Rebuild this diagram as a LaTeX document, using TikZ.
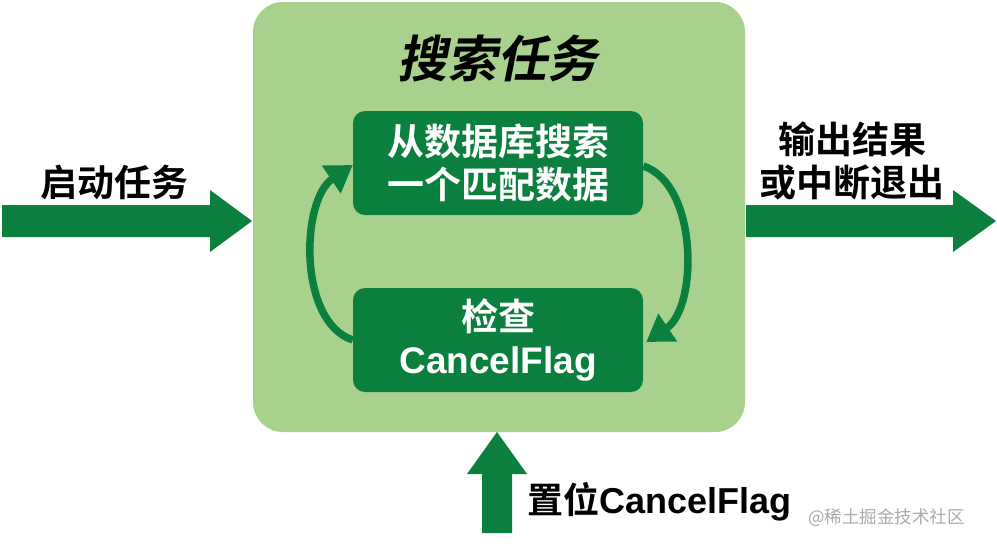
\documentclass[tikz,border=0pt]{standalone}
\usepackage{fontspec}
\usetikzlibrary{arrows.meta}
\newfontfamily\cjkb{Noto Sans CJK SC Bold}
\newfontfamily\cjkr{Noto Sans CJK SC}
\newfontfamily\cjkbi{Noto Sans CJK SC Bold}[FakeSlant=0.2]
\newfontfamily\latb{Liberation Sans Bold}
\definecolor{lightg}{HTML}{A9D18E}
\definecolor{darkg}{HTML}{0A7F3E}
\begin{document}
\begin{tikzpicture}[x=1pt,y=-1pt,
  innerbox/.style={fill=darkg, rounded corners=12pt, minimum width=290pt, minimum height=104pt,
    text=white, align=center, font=\cjkb\fontsize{37}{43}\selectfont, inner sep=0pt},
  lbl/.style={text=black, align=center, font=\cjkb\fontsize{37}{43}\selectfont, inner sep=0pt},
  loop/.style={draw=darkg, line width=7.5pt, -{Triangle[length=26pt,width=32pt]}},
  blockarrow/.style={fill=darkg}]
\useasboundingbox (0,0) rectangle (997,550);
\fill[white] (0,0) rectangle (997,550);
\node[fill=lightg, rounded corners=30pt, minimum width=492pt, minimum height=430pt, inner sep=0pt] (task) at (499,217) {};
\node[lbl, font=\cjkbi\fontsize{50}{54}\selectfont] (title) at (497,58) {搜索任务};
\node[innerbox] (top) at (498,163) {从数据库搜索\\一个匹配数据};
\node[innerbox] (bot) at (498,340) {检查\\{\latb CancelFlag}};
\draw[loop] ([yshift=-3pt]top.east) .. controls +(55,18) and +(52,-35) .. ([xshift=3pt,yshift=-2pt]bot.east);
\draw[loop] (bot.west) .. controls +(-55,-18) and +(-52,35) .. ([yshift=-2pt]top.west);
% left arrow
\fill[blockarrow] (2,205) -- (210,205) -- (210,190) -- (252,221) -- (210,252) -- (210,237) -- (2,237) -- cycle;
\node[lbl] (start) at (115,182) {启动任务};
% right arrow
\fill[blockarrow] (746,205) -- (953,205) -- (953,190) -- (996,221) -- (953,252) -- (953,237) -- (746,237) -- cycle;
\node[lbl] (out) at (852,161) {输出结果\\或中断退出};
% bottom arrow
\fill[blockarrow] (497,432) -- (527,474) -- (512,474) -- (512,533) -- (482,533) -- (482,474) -- (467,474) -- cycle;
\node[lbl, anchor=west, font=\cjkb\fontsize{36}{40}\selectfont] (setflag) at (527,502) {置位{\latb CancelFlag}};
\node[anchor=west, inner sep=0pt, text=black!33, font=\cjkr\fontsize{17.5}{20}\selectfont] (wm) at (808,518) {@稀土掘金技术社区};
\end{tikzpicture}
\end{document}
